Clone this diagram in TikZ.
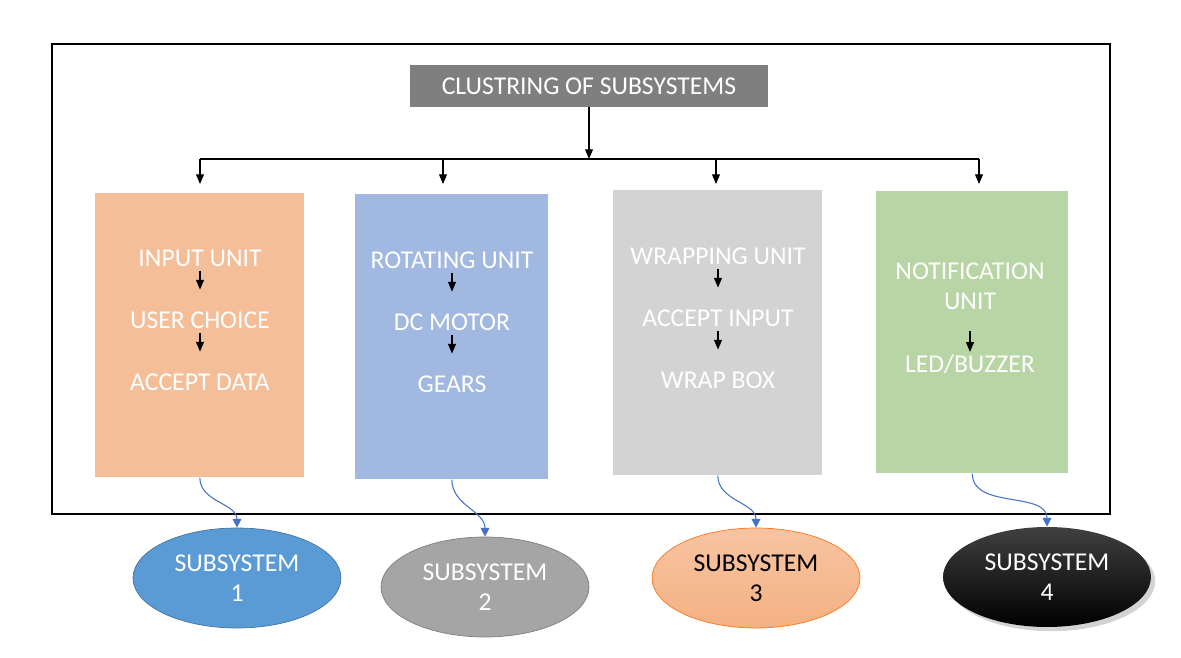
\documentclass[tikz,border=0pt]{standalone}
\usepackage{fontspec}
\setmainfont{Carlito}
\usetikzlibrary{arrows.meta}
\usetikzlibrary{shapes.geometric}
\usetikzlibrary{shadows}
\definecolor{titlegray}{HTML}{7F7F7F}
\definecolor{unitorange}{HTML}{F4BE99}
\definecolor{unitblue}{HTML}{A1B8E0}
\definecolor{unitgray}{HTML}{D3D3D3}
\definecolor{unitgreen}{HTML}{B8D5A5}
\definecolor{subblue}{HTML}{5B9BD5}
\definecolor{subgray}{HTML}{A5A5A5}
\definecolor{suborange}{HTML}{F4B183}
\definecolor{linkblue}{HTML}{4472C4}
\newcommand{\drawunit}[4]{
	\draw #1 node (#2) [unitbox,fill=#3,#4] {};
}

\begin{document}
\begin{tikzpicture}[x=0.02cm,y=-0.02cm,
	txt/.style={font=\fontsize{14.6}{17}\selectfont},
	unitbox/.style={shape=rectangle,inner sep=0pt,anchor=north west},
	unittext/.style={txt,text=white,align=center},
	tip/.style={-{Triangle[length=5.5pt,width=4.5pt]},line width=0.6pt},
	steparrow/.style={tip,shorten <=-1pt,shorten >=9pt},
	linkarrow/.style={-{Triangle[length=5pt,width=5pt]},draw=linkblue,line width=0.6pt},
	subsys/.style={shape=ellipse,inner sep=0pt,minimum width=4.16cm,minimum height=2cm,txt,align=center}]
	\useasboundingbox (0,0) rectangle (1181,658);
	\draw[line width=0.6pt] (52,44) rectangle (1110,514);
	\node (title) [shape=rectangle,fill=titlegray,minimum width=7.18cm,minimum height=0.84cm,txt,text=white] at (589,86) {CLUSTRING OF SUBSYSTEMS};
	\drawunit{(95,193)}{b1}{unitorange}{minimum width=4.18cm,minimum height=5.68cm}
	\drawunit{(355,194)}{b2}{unitblue}{minimum width=3.86cm,minimum height=5.7cm}
	\drawunit{(613,190)}{b3}{unitgray}{minimum width=4.18cm,minimum height=5.7cm}
	\drawunit{(876,191)}{b4}{unitgreen}{minimum width=3.84cm,minimum height=5.64cm}
	\coordinate (bus) at (589,159);
	\draw[tip] (title.south) -- (bus);
	\foreach \i / \x in {1/200,2/443,3/716,4/979}
		\coordinate (d\i) at (\x,184);
	\draw[line width=0.6pt] (d1 |- bus) -- (d4 |- bus);
	\foreach \i in {1,...,4}
		\draw[tip] (d\i |- bus) -- (d\i);
	\foreach \i / \x / \y / \ta / \tb / \tc in {1/200/258/INPUT UNIT/USER CHOICE/ACCEPT DATA,2/452/260/ROTATING UNIT/DC MOTOR/GEARS,3/718/256/WRAPPING UNIT/ACCEPT INPUT/WRAP BOX} {
		\node[unittext] (t\i a) at (\x,\y) {\ta};
		\node[unittext] (t\i b) at (\x,\y+62) {\tb};
		\node[unittext] (t\i c) at (\x,\y+124) {\tc};
		\draw[steparrow] (t\i a) -- (t\i b);
		\draw[steparrow] (t\i b) -- (t\i c);
	}
	\node[unittext] (t4a) at (970,286) {NOTIFICATION\\UNIT};
	\node[unittext] (t4b) at (970,364) {LED/BUZZER};
	\draw[tip,shorten <=9pt,shorten >=-2pt] (t4a) -- (t4b);
	\node[subsys,fill=subblue,draw=subblue!75!black,text=white] (e1) at (237,578) {SUBSYSTEM\\1};
	\node[subsys,fill=subgray,draw=titlegray,text=white] (e2) at (485,587) {SUBSYSTEM\\2};
	\node[subsys,top color=suborange!75!white,bottom color=suborange,draw=orange!80!red!90!white,text=black] (e3) at (756,578) {SUBSYSTEM\\3};
	\node[subsys,top color=black!75,bottom color=black,drop shadow={opacity=0.35},text=white] (e4) at (1047,577) {SUBSYSTEM\\4};
	\foreach \i in {1,...,4}
		\draw[linkarrow] (b\i.south) to[out=-90,in=90] (e\i.north);
\end{tikzpicture}
\end{document}
